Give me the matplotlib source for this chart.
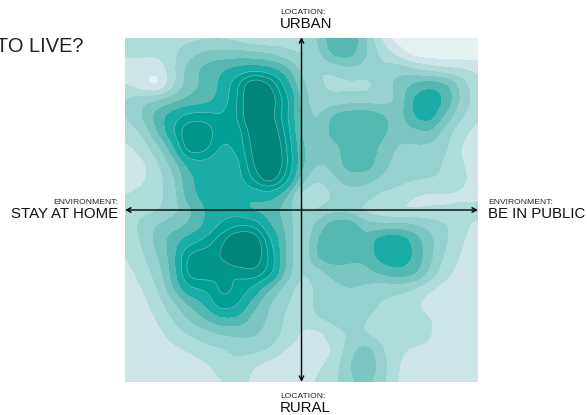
import matplotlib
matplotlib.use("Agg")
import matplotlib.pyplot as plt
import numpy as np

plt.rcParams["font.family"] = ["Liberation Sans", "DejaVu Sans"]

# density, top row first (value k = inside band k)
density = [
    [2.6, 2.6, 2.6, 2.6, 2.6, 2.7, 2.7, 2.5, 1.8, 1.8, 2.3, 2.8, 4.0, 5.9, 6.0, 4.2, 1.6, 0.3, 0.3, 0.3, 0.3, 0.3, 0.3],
    [2.5, 2.2, 2.2, 2.8, 3.6, 4.3, 4.3, 4.4, 4.3, 4.0, 3.2, 2.7, 3.6, 5.6, 5.6, 4.1, 2.7, 1.5, 0.2, 0.2, 0.2, 0.2, 0.2],
    [0.6, 1.5, 1.0, 2.7, 4.6, 5.4, 6.0, 6.3, 6.4, 6.2, 5.5, 3.5, 2.8, 3.0, 3.8, 3.6, 3.2, 3.9, 3.1, 2.5, 2.0, 2.1, 1.9],
    [2.3, 1.0, 0.0, 2.6, 4.5, 5.2, 6.1, 7.8, 11.0, 9.5, 6.6, 4.2, 3.2, 2.6, 2.6, 2.5, 3.3, 4.4, 5.3, 6.0, 5.5, 3.6, 2.0],
    [3.0, 3.9, 4.2, 4.7, 5.2, 5.4, 6.3, 7.8, 11.0, 10.0, 7.8, 4.5, 3.1, 3.3, 3.4, 3.4, 3.4, 3.9, 6.4, 7.0, 6.0, 3.6, 2.5],
    [2.9, 4.0, 5.6, 6.7, 7.5, 7.6, 7.0, 7.9, 11.0, 9.5, 7.4, 4.6, 3.7, 5.4, 5.9, 6.0, 5.4, 4.3, 6.2, 6.8, 4.6, 3.0, 2.0],
    [2.3, 2.9, 5.0, 7.0, 9.4, 9.0, 7.2, 7.2, 9.8, 10.5, 7.9, 4.5, 3.8, 5.7, 6.0, 6.0, 5.5, 4.2, 4.6, 5.0, 3.3, 2.2, 1.6],
    [1.7, 2.2, 3.6, 5.5, 9.4, 8.6, 6.7, 7.2, 9.3, 11.5, 8.2, 5.0, 4.2, 4.4, 5.7, 5.9, 4.6, 3.8, 3.8, 3.7, 3.2, 1.8, 1.3],
    [1.5, 1.6, 2.7, 4.4, 6.3, 6.6, 6.0, 6.5, 9.0, 11.5, 8.6, 5.0, 4.0, 4.2, 5.8, 5.9, 4.3, 3.7, 3.4, 3.4, 2.8, 2.0, 1.5],
    [1.4, 1.7, 2.5, 3.6, 5.9, 6.4, 6.3, 6.5, 8.2, 10.3, 8.0, 4.5, 2.9, 3.9, 4.5, 4.3, 3.9, 3.3, 3.2, 3.1, 2.9, 2.3, 1.4],
    [2.0, 2.2, 2.7, 3.4, 5.8, 6.4, 6.3, 5.8, 6.2, 6.3, 5.3, 2.0, 1.8, 3.0, 3.6, 3.5, 2.7, 2.7, 1.9, 1.7, 1.8, 1.8, 1.6],
    [2.2, 2.6, 2.7, 3.5, 4.6, 6.1, 6.6, 6.5, 5.5, 5.5, 4.5, 3.0, 3.0, 3.6, 3.5, 2.4, 1.9, 1.6, 1.7, 2.0, 2.0, 2.2, 2.4],
    [2.1, 3.4, 4.2, 4.6, 5.0, 6.0, 7.1, 7.8, 8.0, 5.9, 4.9, 2.7, 4.4, 5.9, 6.0, 4.5, 4.3, 4.4, 4.3, 3.7, 3.2, 2.2, 1.7],
    [2.0, 3.0, 4.3, 5.6, 6.5, 7.2, 8.8, 11.0, 11.0, 7.2, 5.0, 2.7, 5.2, 6.1, 5.9, 5.2, 7.0, 7.3, 5.8, 4.3, 3.1, 2.0, 1.5],
    [1.9, 2.7, 3.9, 5.4, 8.7, 9.0, 9.0, 11.0, 10.2, 8.0, 4.9, 2.8, 5.4, 5.8, 5.2, 5.1, 6.6, 6.8, 6.0, 4.2, 2.7, 1.8, 1.4],
    [1.6, 2.2, 3.4, 5.2, 8.9, 8.9, 7.8, 7.8, 9.0, 8.0, 4.8, 2.7, 3.4, 4.3, 4.6, 4.7, 5.2, 5.9, 5.5, 3.9, 2.2, 1.6, 1.3],
    [1.4, 1.9, 2.8, 5.0, 7.0, 7.0, 8.5, 8.0, 6.8, 4.9, 3.4, 2.5, 3.1, 3.7, 4.0, 3.7, 3.2, 3.2, 2.9, 2.0, 1.5, 1.2, 1.1],
    [1.3, 1.6, 2.4, 3.6, 5.1, 6.0, 8.0, 7.3, 5.3, 3.9, 3.1, 2.4, 3.3, 3.6, 3.7, 3.4, 2.9, 2.6, 2.1, 1.5, 1.2, 1.1, 1.0],
    [1.2, 1.4, 2.0, 3.0, 4.0, 5.0, 5.7, 5.8, 4.5, 3.9, 2.8, 2.2, 3.1, 3.2, 3.4, 3.0, 2.5, 3.4, 2.3, 2.2, 1.3, 1.1, 1.0],
    [1.1, 1.2, 1.6, 2.4, 3.0, 3.4, 3.9, 4.0, 4.2, 3.6, 2.7, 1.8, 1.2, 2.7, 3.0, 2.9, 2.5, 2.4, 2.3, 2.2, 1.2, 1.0, 1.0],
    [1.0, 1.1, 1.2, 1.7, 2.0, 2.6, 2.7, 3.3, 3.2, 3.0, 1.8, 1.6, 1.2, 1.9, 3.5, 4.9, 3.1, 2.1, 1.9, 1.8, 1.1, 1.0, 1.0],
    [1.0, 1.0, 1.0, 1.1, 1.3, 1.7, 2.5, 2.6, 2.0, 1.2, 1.1, 1.1, 1.8, 2.5, 4.0, 5.3, 3.4, 2.0, 1.3, 1.1, 1.0, 1.0, 1.0],
    [1.0, 1.0, 1.0, 1.0, 1.0, 1.2, 1.9, 2.3, 1.8, 1.0, 1.0, 1.1, 2.3, 2.6, 3.8, 4.3, 3.3, 1.9, 1.1, 1.0, 1.0, 1.0, 1.0],
]
band_levels = [-1, 1, 2, 3, 4, 5, 6, 7, 8, 9, 13]
band_colors = [
    "#e3f1f1", "#cde5e8", "#aedcd9", "#97d1cd", "#7cc6c1",
    "#55b8b3", "#1aaca6", "#00a096", "#00968b", "#00857a",
]


def smooth_grid(values, factor=8, sigma=0.55):
    # resample the coarse grid with a gaussian kernel, the way a kde surface looks
    n = values.shape[0]
    m = values.shape[1]
    r = np.linspace(0, n - 1, (n - 1) * factor + 1)
    c = np.linspace(0, m - 1, (m - 1) * factor + 1)
    wr = np.exp(-0.5 * ((r[:, None] - np.arange(n)) / sigma) ** 2)
    wc = np.exp(-0.5 * ((c[:, None] - np.arange(m)) / sigma) ** 2)
    wr /= wr.sum(axis=1, keepdims=True)
    wc /= wc.sum(axis=1, keepdims=True)
    return wr @ values @ wc.T


z = smooth_grid(np.array(density))
xs = np.linspace(-1, 1, z.shape[1])
ys = np.linspace(1, -1, z.shape[0])

fig = plt.figure(figsize=(5.87, 4.15), dpi=100)
ax = fig.add_axes([125 / 587, 1 - 382 / 415, 353 / 587, 344 / 415])

ax.contourf(xs, ys, z, levels=band_levels, colors=band_colors)
ax.contour(xs, ys, z, levels=[7, 8, 9], colors="white", linewidths=0.4, alpha=0.5)

ax.set_xlim(-1, 1)
ax.set_ylim(-1, 1)
ax.axis("off")

arrow = dict(arrowstyle="<->", color="black", lw=1, shrinkA=0, shrinkB=0, mutation_scale=8)
ax.annotate("", xy=(-1.0, 0), xytext=(1.0, 0), arrowprops=arrow, annotation_clip=False)
ax.annotate("", xy=(0, 1.005), xytext=(0, -1.0), arrowprops=arrow, annotation_clip=False)


def label(x, y, small, big, ha="left"):
    fig.text(x / 587, 1 - (y - 14) / 415, small, fontsize=6.1, ha=ha, va="baseline", color="#222222")
    fig.text(x / 587, 1 - y / 415, big, fontsize=10.8, ha=ha, va="baseline", color="#111111")


label(280, 28, "LOCATION:", "URBAN")
label(280, 412, "LOCATION:", "RURAL")
label(118, 218, "ENVIRONMENT:", "STAY AT HOME", ha="right")
label(488, 218, "ENVIRONMENT:", "BE IN PUBLIC")

fig.text(83 / 587, 1 - 51.5 / 415, "TO LIVE?", fontsize=14.4, ha="right", va="baseline", color="#222222")

plt.savefig("out.png", dpi=100)
